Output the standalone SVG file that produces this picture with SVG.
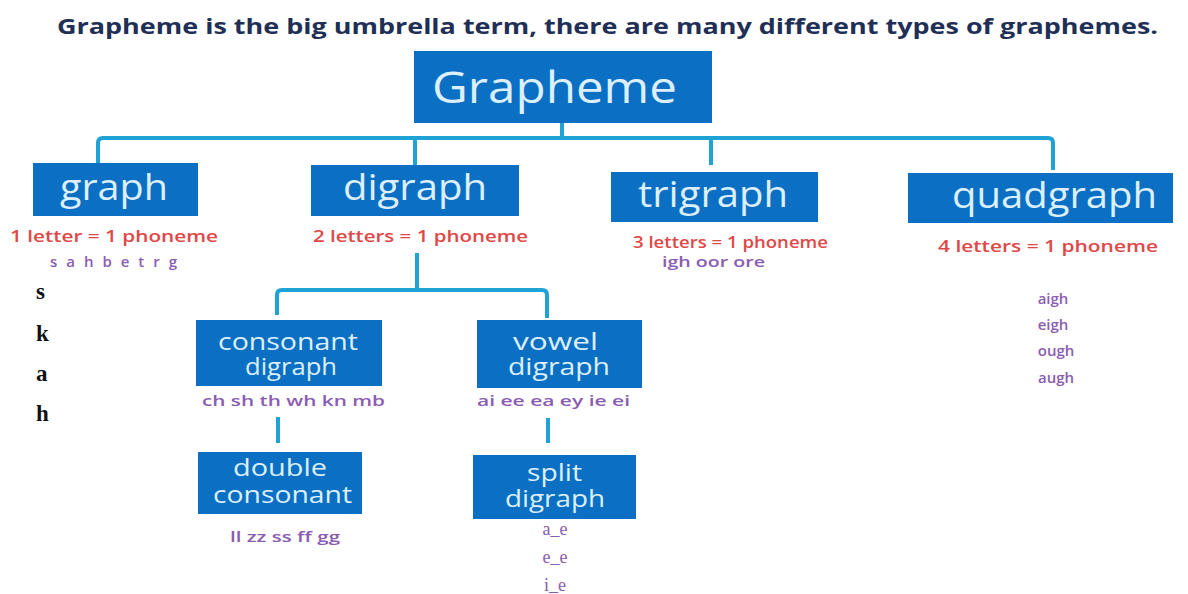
<svg xmlns="http://www.w3.org/2000/svg" width="1188" height="594" viewBox="0 0 1188 594">
<style>
.box{fill:#0b6fc3}
.bt{font-family:"Open Sans","Noto Sans",sans-serif;fill:#dcefff;text-anchor:start}
.bt2{font-family:"Open Sans","Noto Sans",sans-serif;fill:#dcefff;font-size:23px}
.red{font-family:"Open Sans","Noto Sans",sans-serif;font-weight:600;fill:#e04848;font-size:16px}
.pur{font-family:"Open Sans","Noto Sans",sans-serif;font-weight:600;fill:#8a5cb2;font-size:15px}
.pser{font-family:"Liberation Serif",serif;fill:#8a5cb2;font-size:18px;text-anchor:middle}
.side{font-family:"Liberation Serif",serif;font-weight:bold;fill:#111;font-size:23px}
.conn{stroke:#1fa2d6;stroke-width:4;fill:none;stroke-linejoin:round}
</style>
<rect width="1188" height="594" fill="#ffffff"/>
<text x="57" y="34" font-family="'Open Sans','Noto Sans',sans-serif" font-weight="700" font-size="22" fill="#1f2f56" textLength="1101" lengthAdjust="spacingAndGlyphs">Grapheme is the big umbrella term, there are many different types of graphemes.</text>
<g id="connectors">
<path class="conn" d="M562 123 V138"/>
<path class="conn" d="M98 163 V143 Q98 138 103 138 H1048 Q1053 138 1053 143 V170"/>
<path class="conn" d="M415 138 V165"/>
<path class="conn" d="M711 138 V165"/>
<path class="conn" d="M417 253 V290"/>
<path class="conn" d="M277 315 V295 Q277 290 282 290 H542 Q547 290 547 295 V318"/>
<path class="conn" d="M278 417 V443"/>
<path class="conn" d="M548 418 V443"/>
</g>
<g id="grapheme">
<rect class="box" x="414" y="51" width="298" height="72"/>
<text class="bt" x="432" y="103" font-size="44" textLength="245" lengthAdjust="spacingAndGlyphs">Grapheme</text>
</g>
<g id="graph">
<rect class="box" x="33" y="163" width="165" height="53"/>
<text class="bt" x="60" y="200" font-size="36" textLength="108" lengthAdjust="spacingAndGlyphs">graph</text>
<text class="red" x="10" y="242" textLength="208" lengthAdjust="spacingAndGlyphs">1 letter = 1 phoneme</text>
<text class="pur" x="50" y="267" textLength="127" lengthAdjust="spacing">s a h b e t r g</text>
</g>
<g id="digraph">
<rect class="box" x="311" y="165" width="208" height="51"/>
<text class="bt" x="343" y="200" font-size="36" textLength="144" lengthAdjust="spacingAndGlyphs">digraph</text>
<text class="red" x="313" y="242" textLength="215" lengthAdjust="spacingAndGlyphs">2 letters = 1 phoneme</text>
</g>
<g id="trigraph">
<rect class="box" x="611" y="172" width="207" height="50"/>
<text class="bt" x="638" y="207" font-size="36" textLength="150" lengthAdjust="spacingAndGlyphs">trigraph</text>
<text class="red" x="633" y="248" textLength="195" lengthAdjust="spacingAndGlyphs">3 letters = 1 phoneme</text>
<text class="pur" x="662" y="267" textLength="103" lengthAdjust="spacingAndGlyphs">igh oor ore</text>
</g>
<g id="quadgraph">
<rect class="box" x="908" y="173" width="265" height="50"/>
<text class="bt" x="952" y="208" font-size="36" textLength="205" lengthAdjust="spacingAndGlyphs">quadgraph</text>
<text class="red" x="938" y="252" textLength="220" lengthAdjust="spacingAndGlyphs">4 letters = 1 phoneme</text>
<text class="pur" x="1053" y="304" text-anchor="middle">aigh</text>
<text class="pur" x="1053" y="330" text-anchor="middle">eigh</text>
<text class="pur" x="1056" y="356" text-anchor="middle">ough</text>
<text class="pur" x="1056" y="383" text-anchor="middle">augh</text>
</g>
<g id="consonant-digraph">
<rect class="box" x="196" y="320" width="186" height="66"/>
<text class="bt2" x="218" y="350" textLength="140" lengthAdjust="spacingAndGlyphs">consonant</text>
<text class="bt2" x="245" y="375" textLength="92" lengthAdjust="spacingAndGlyphs">digraph</text>
<text class="pur" x="202" y="406" textLength="183" lengthAdjust="spacingAndGlyphs">ch sh th wh kn mb</text>
</g>
<g id="vowel-digraph">
<rect class="box" x="477" y="320" width="165" height="68"/>
<text class="bt2" x="513" y="350" textLength="85" lengthAdjust="spacingAndGlyphs">vowel</text>
<text class="bt2" x="508" y="375" textLength="102" lengthAdjust="spacingAndGlyphs">digraph</text>
<text class="pur" x="477" y="406" textLength="153" lengthAdjust="spacingAndGlyphs">ai ee ea ey ie ei</text>
</g>
<g id="double-consonant">
<rect class="box" x="198" y="452" width="164" height="62"/>
<text class="bt2" x="233" y="476" textLength="94" lengthAdjust="spacingAndGlyphs">double</text>
<text class="bt2" x="213" y="503" textLength="139" lengthAdjust="spacingAndGlyphs">consonant</text>
<text class="pur" x="230" y="542" textLength="110" lengthAdjust="spacingAndGlyphs">ll zz ss ff gg</text>
</g>
<g id="split-digraph">
<rect class="box" x="473" y="455" width="163" height="64"/>
<text class="bt2" x="527" y="481" textLength="55" lengthAdjust="spacingAndGlyphs">split</text>
<text class="bt2" x="505" y="507" textLength="100" lengthAdjust="spacingAndGlyphs">digraph</text>
<text class="pser" x="555" y="535">a_e</text>
<text class="pser" x="555" y="563">e_e</text>
<text class="pser" x="555" y="591">i_e</text>
</g>
<g id="side-letters">
<text class="side" x="36" y="299">s</text>
<text class="side" x="36" y="341">k</text>
<text class="side" x="36" y="381">a</text>
<text class="side" x="36" y="421">h</text>
</g>
</svg>
